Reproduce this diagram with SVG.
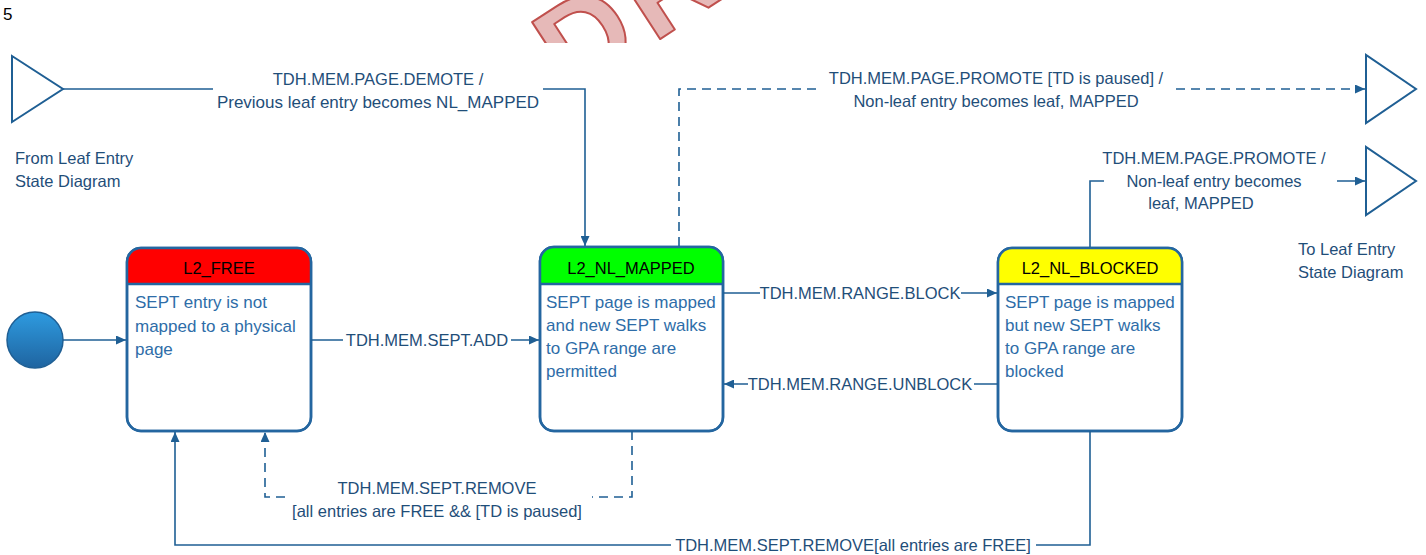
<svg xmlns="http://www.w3.org/2000/svg" width="1426" height="555" viewBox="0 0 1426 555">
<style>
.lbl{font-family:"Liberation Sans",Arial,sans-serif;font-size:16.5px;fill:#1f4e79;text-anchor:middle}
.side{font-family:"Liberation Sans",Arial,sans-serif;font-size:16.5px;fill:#1f4e79}
.body{font-family:"Liberation Sans",Arial,sans-serif;font-size:17px;fill:#2e6da8}
.hdr{font-family:"Liberation Sans",Arial,sans-serif;font-size:16.5px;fill:#000;text-anchor:middle}
.node{fill:#fff;stroke:#2466a0;stroke-width:2.5}
.sep{stroke:#2466a0;stroke-width:2.5}
.con{fill:none;stroke:#1f5f94;stroke-width:1.6}
.dash{stroke-dasharray:9 6}
.tri{fill:#fff;stroke:#1f5f94;stroke-width:2}
</style>
<defs>
<marker id="arr" markerUnits="userSpaceOnUse" markerWidth="11" markerHeight="9" refX="10" refY="4.5" orient="auto">
<path d="M0,0 L10,4.5 L0,9 z" fill="#1f5f94"/>
</marker>
<linearGradient id="g" x1="0" y1="0" x2="0" y2="1">
<stop offset="0" stop-color="#2e9be0"/>
<stop offset="1" stop-color="#1f64a0"/>
</linearGradient>
<clipPath id="wm"><rect x="0" y="0" width="1426" height="43"/></clipPath>
</defs>
<rect width="1426" height="555" fill="#fff"/>
<g id="watermark" clip-path="url(#wm)">
<text transform="translate(571,97) rotate(-33)" font-family="Liberation Sans,Arial,sans-serif" font-weight="bold" font-size="122" letter-spacing="10" fill="#e6b9b8" stroke="#c0504d" stroke-width="2" stroke-linejoin="round">DRAFT</text>
</g>
<text x="3" y="20" font-family="Liberation Sans,Arial,sans-serif" font-size="17" fill="#000">5</text>

<g id="from-leaf">
<polygon class="tri" points="12,56 12,122 63,89"/>
<text class="side" x="15" y="164">From Leaf Entry</text>
<text class="side" x="15" y="187">State Diagram</text>
</g>
<g id="to-leaf-1"><polygon class="tri" points="1366,55 1366,123 1416,89"/></g>
<g id="to-leaf-2">
<polygon class="tri" points="1366,147 1366,215 1416,181"/>
<text class="side" x="1298" y="255">To Leaf Entry</text>
<text class="side" x="1298" y="278">State Diagram</text>
</g>

<g id="initial"><circle cx="35" cy="340" r="28" fill="url(#g)" stroke="#1f5f94" stroke-width="1.5"/></g>

<g id="L2_FREE">
<rect class="node" x="127" y="248" width="184" height="183" rx="14"/>
<path d="M127,284 V262 A14,14 0 0 1 141,248 H297 A14,14 0 0 1 311,262 V284 Z" fill="#ff0000"/>
<rect x="127" y="248" width="184" height="183" rx="14" fill="none" stroke="#2466a0" stroke-width="2.5"/>
<line class="sep" x1="127" y1="284" x2="311" y2="284"/>
<text class="hdr" x="219" y="274">L2_FREE</text>
<text class="body" x="135" y="308">SEPT entry is not</text>
<text class="body" x="135" y="332">mapped to a physical</text>
<text class="body" x="135" y="355">page</text>
</g>

<g id="L2_NL_MAPPED">
<rect class="node" x="540" y="247" width="183" height="184" rx="14"/>
<path d="M540,284 V261 A14,14 0 0 1 554,247 H709 A14,14 0 0 1 723,261 V284 Z" fill="#00ff00"/>
<rect x="540" y="247" width="183" height="184" rx="14" fill="none" stroke="#2466a0" stroke-width="2.5"/>
<line class="sep" x1="540" y1="284" x2="723" y2="284"/>
<text class="hdr" x="631" y="274">L2_NL_MAPPED</text>
<text class="body" x="546" y="308">SEPT page is mapped</text>
<text class="body" x="546" y="331">and new SEPT walks</text>
<text class="body" x="546" y="354">to GPA range are</text>
<text class="body" x="546" y="377">permitted</text>
</g>

<g id="L2_NL_BLOCKED">
<rect class="node" x="998" y="248" width="184" height="183" rx="14"/>
<path d="M998,284 V262 A14,14 0 0 1 1012,248 H1168 A14,14 0 0 1 1182,262 V284 Z" fill="#ffff00"/>
<rect x="998" y="248" width="184" height="183" rx="14" fill="none" stroke="#2466a0" stroke-width="2.5"/>
<line class="sep" x1="998" y1="284" x2="1182" y2="284"/>
<text class="hdr" x="1090" y="274">L2_NL_BLOCKED</text>
<text class="body" x="1005" y="308">SEPT page is mapped</text>
<text class="body" x="1005" y="331">but new SEPT walks</text>
<text class="body" x="1005" y="354">to GPA range are</text>
<text class="body" x="1005" y="377">blocked</text>
</g>

<g id="connectors">
<path class="con" d="M63,340 H126" marker-end="url(#arr)"/>
<path class="con" d="M63,89 H213 M543,89 H585 V246" marker-end="url(#arr)"/>
<text class="lbl" x="378" y="85">TDH.MEM.PAGE.DEMOTE /</text>
<text class="lbl" x="378" y="108" style="font-size:17px">Previous leaf entry becomes NL_MAPPED</text>

<path class="con dash" d="M679,246 V89 H816 M1176,89 H1365" marker-end="url(#arr)"/>
<text class="lbl" x="996" y="84">TDH.MEM.PAGE.PROMOTE [TD is paused] /</text>
<text class="lbl" x="996" y="107">Non-leaf entry becomes leaf, MAPPED</text>

<path class="con" d="M1090,247 V181 H1104 M1337,181 H1365" marker-end="url(#arr)"/>
<text class="lbl" x="1214" y="164">TDH.MEM.PAGE.PROMOTE /</text>
<text class="lbl" x="1214" y="187">Non-leaf entry becomes</text>
<text class="lbl" x="1201" y="209">leaf, MAPPED</text>

<path class="con" d="M311,340 H343 M511,340 H539" marker-end="url(#arr)"/>
<text class="lbl" x="427" y="346">TDH.MEM.SEPT.ADD</text>

<path class="con" d="M723,293 H760 M961,293 H997" marker-end="url(#arr)"/>
<text class="lbl" x="860" y="299">TDH.MEM.RANGE.BLOCK</text>

<path class="con" d="M998,384 H974 M748,384 H724" marker-end="url(#arr)"/>
<text class="lbl" x="860" y="390">TDH.MEM.RANGE.UNBLOCK</text>

<path class="con dash" d="M632,431 V497 H592 M285,497 H265 V432" marker-end="url(#arr)"/>
<text class="lbl" x="437" y="494">TDH.MEM.SEPT.REMOVE</text>
<text class="lbl" x="437" y="517">[all entries are FREE &amp;&amp; [TD is paused]</text>

<path class="con" d="M1090,431 V545 H1036 M671,545 H175 V432" marker-end="url(#arr)"/>
<text class="lbl" x="853" y="551">TDH.MEM.SEPT.REMOVE[all entries are FREE]</text>
</g>
</svg>
